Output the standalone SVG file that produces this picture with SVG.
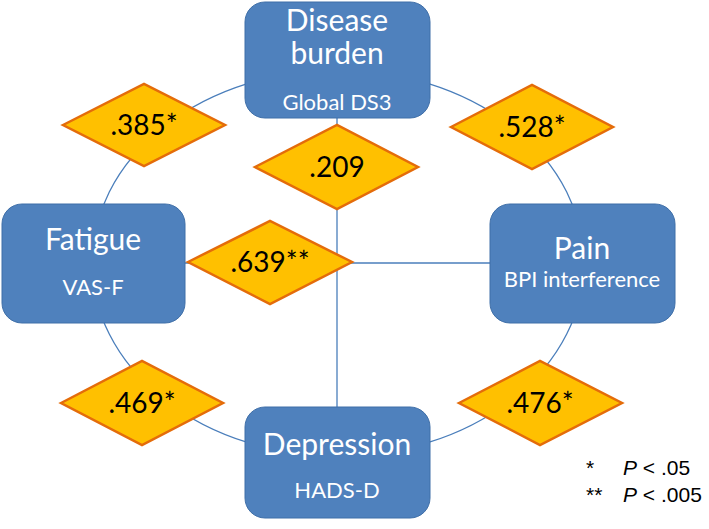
<svg xmlns="http://www.w3.org/2000/svg" width="709" height="529" viewBox="0 0 709 529">
<style>
.box{fill:#4F81BD;stroke:#3F6FA8;stroke-width:1}
.t1{font-family:Lato,"Open Sans",sans-serif;font-size:30px;fill:#fff;text-anchor:middle}
.t2{font-family:Lato,"Open Sans",sans-serif;font-size:22px;fill:#fff;text-anchor:middle}
.dia{fill:#FFC000;stroke:#E46C0A;stroke-width:2.5;stroke-linejoin:miter}
.dt{font-family:Lato,"Open Sans",sans-serif;font-size:28px;fill:#000;text-anchor:middle}
.conn{fill:none;stroke:#4A7EBB;stroke-width:1.3}
.leg{font-family:"Liberation Sans",Arial,sans-serif;font-size:21px;fill:#000}
</style>
<rect width="709" height="529" fill="#fff"/>
<g id="connectors">
<ellipse class="conn" cx="338" cy="263" rx="246" ry="193"/>
<line class="conn" x1="337" y1="118" x2="337" y2="407"/>
<line class="conn" x1="185" y1="263" x2="490" y2="263"/>
</g>
<g id="disease-burden">
<rect class="box" x="245" y="2" width="185" height="116" rx="20"/>
<text class="t1" x="337" y="31">Disease</text>
<text class="t1" x="337" y="64">burden</text>
<text class="t2" x="337" y="110">Global DS3</text>
</g>
<g id="fatigue">
<rect class="box" x="2" y="204" width="183" height="119" rx="20"/>
<text class="t1" x="93" y="250">Fatigue</text>
<text class="t2" x="93" y="295">VAS-F</text>
</g>
<g id="pain">
<rect class="box" x="490" y="204" width="185" height="119" rx="20"/>
<text class="t1" x="582" y="259">Pain</text>
<text class="t2" x="582" y="287">BPI interference</text>
</g>
<g id="depression">
<rect class="box" x="245" y="407" width="185" height="111" rx="20"/>
<text class="t1" x="337" y="455">Depression</text>
<text class="t2" x="337" y="498">HADS-D</text>
</g>
<g id="d385">
<polygon class="dia" points="63,125 144,84 225,125 144,166"/>
<text class="dt" x="144" y="135">.385*</text>
</g>
<g id="d528">
<polygon class="dia" points="451,127 532,85 613,127 532,169"/>
<text class="dt" x="532" y="137">.528*</text>
</g>
<g id="d209">
<polygon class="dia" points="255,167 337,125 418,167 337,209"/>
<text class="dt" x="337" y="177">.209</text>
</g>
<g id="d639">
<polygon class="dia" points="188,262 270,221 352,262 270,304"/>
<text class="dt" x="270" y="272">.639**</text>
</g>
<g id="d469">
<polygon class="dia" points="61,403 142,361 223,403 142,445"/>
<text class="dt" x="142" y="413">.469*</text>
</g>
<g id="d476">
<polygon class="dia" points="459,403 540,361 622,403 540,445"/>
<text class="dt" x="540" y="413">.476*</text>
</g>
<g id="legend">
<text class="leg" x="586" y="475">*</text>
<text class="leg" x="623" y="475"><tspan font-style="italic">P</tspan> &lt; .05</text>
<text class="leg" x="586" y="502">**</text>
<text class="leg" x="623" y="502"><tspan font-style="italic">P</tspan> &lt; .005</text>
</g>
</svg>
